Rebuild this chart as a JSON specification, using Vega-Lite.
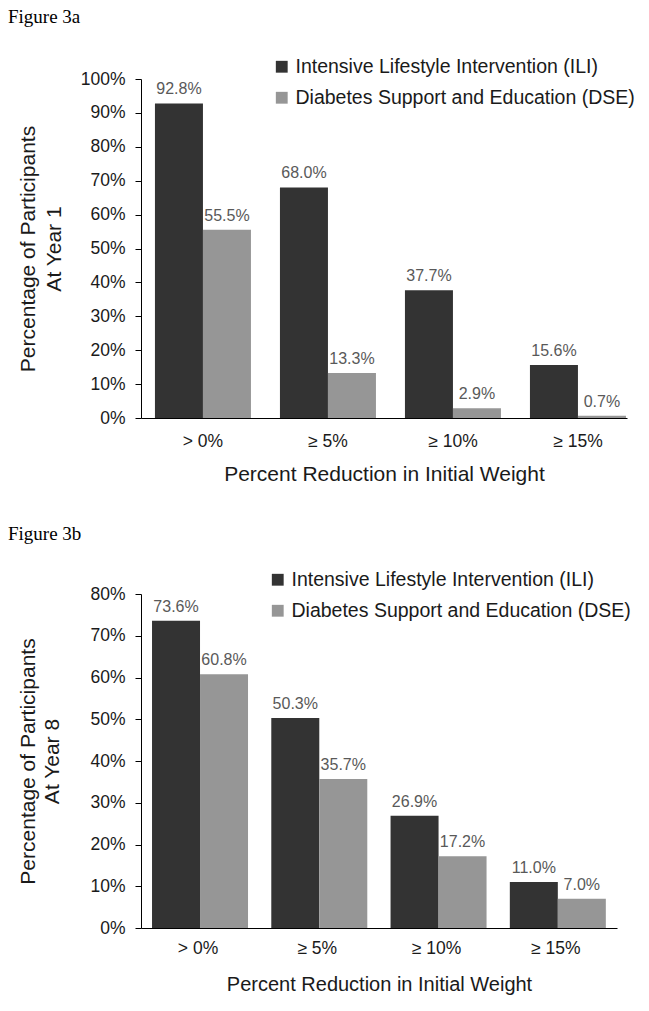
{
  "$schema": "https://vega.github.io/schema/vega-lite/v6.json",
  "background": "white",
  "padding": {"left": 8, "top": 8, "right": 0, "bottom": 0},
  "bounds": "flush",
  "spacing": 176,
  "config": {
    "font": "Liberation Sans",
    "view": {"stroke": null},
    "axis": {
      "grid": false,
      "domainColor": "#000000",
      "tickColor": "#000000",
      "labelColor": "#1a1a1a",
      "titleColor": "#1a1a1a",
      "labelFontSize": 17.5,
      "titleFontSize": 21,
      "titleFontWeight": "normal",
      "labelFont": "Liberation Sans",
      "titleFont": "Liberation Sans"
    },
    "legend": {
      "labelFontSize": 19.5,
      "labelColor": "#1a1a1a",
      "labelFont": "Liberation Sans",
      "symbolType": "square",
      "symbolSize": 140,
      "symbolStrokeWidth": 0,
      "labelOffset": 4,
      "rowPadding": 10,
      "labelLimit": 500
    },
    "title": {
      "font": "Liberation Serif",
      "fontSize": 19,
      "fontWeight": "normal",
      "color": "#000000",
      "anchor": "start",
      "frame": "group"
    }
  },
  "datasets": {
    "year1": [
      {"cat": "> 0%", "group": "Intensive Lifestyle Intervention (ILI)", "share": 0.928},
      {"cat": "> 0%", "group": "Diabetes Support and Education (DSE)", "share": 0.555},
      {"cat": "≥ 5%", "group": "Intensive Lifestyle Intervention (ILI)", "share": 0.680},
      {"cat": "≥ 5%", "group": "Diabetes Support and Education (DSE)", "share": 0.133},
      {"cat": "≥ 10%", "group": "Intensive Lifestyle Intervention (ILI)", "share": 0.377},
      {"cat": "≥ 10%", "group": "Diabetes Support and Education (DSE)", "share": 0.029},
      {"cat": "≥ 15%", "group": "Intensive Lifestyle Intervention (ILI)", "share": 0.156},
      {"cat": "≥ 15%", "group": "Diabetes Support and Education (DSE)", "share": 0.007}
    ],
    "year8": [
      {"cat": "> 0%", "group": "Intensive Lifestyle Intervention (ILI)", "share": 0.736},
      {"cat": "> 0%", "group": "Diabetes Support and Education (DSE)", "share": 0.608},
      {"cat": "≥ 5%", "group": "Intensive Lifestyle Intervention (ILI)", "share": 0.503},
      {"cat": "≥ 5%", "group": "Diabetes Support and Education (DSE)", "share": 0.357},
      {"cat": "≥ 10%", "group": "Intensive Lifestyle Intervention (ILI)", "share": 0.269},
      {"cat": "≥ 10%", "group": "Diabetes Support and Education (DSE)", "share": 0.172},
      {"cat": "≥ 15%", "group": "Intensive Lifestyle Intervention (ILI)", "share": 0.110},
      {"cat": "≥ 15%", "group": "Diabetes Support and Education (DSE)", "share": 0.070}
    ]
  },
  "vconcat": [
    {
      "title": {"text": "Figure 3a", "dx": -133, "offset": 30},
      "width": 486,
      "height": 339,
      "data": {"name": "year1"},
      "encoding": {
        "x": {
          "field": "cat", "type": "nominal", "sort": ["> 0%", "≥ 5%", "≥ 10%", "≥ 15%"],
          "scale": {"paddingInner": 0.232, "paddingOuter": 0.06, "align": 0.93},
          "axis": {"title": "Percent Reduction in Initial Weight", "labelAngle": 0, "ticks": false, "labelPadding": 14, "titlePadding": 14}
        },
        "xOffset": {
          "field": "group", "type": "nominal",
          "sort": ["Intensive Lifestyle Intervention (ILI)", "Diabetes Support and Education (DSE)"],
          "scale": {"paddingInner": 0, "paddingOuter": 0}
        },
        "y": {
          "field": "share", "type": "quantitative",
          "scale": {"domain": [0, 1], "nice": false},
          "axis": {
            "title": ["Percentage of Participants", "At Year 1"],
            "titleLineHeight": 26,
            "titlePadding": 16,
            "format": ".0%",
            "values": [0, 0.1, 0.2, 0.3, 0.4, 0.5, 0.6, 0.7, 0.8, 0.9, 1],
            "tickSize": 6,
            "labelPadding": 10
          }
        }
      },
      "layer": [
        {
          "mark": {"type": "bar"},
          "encoding": {
            "color": {
              "field": "group", "type": "nominal",
              "sort": ["Intensive Lifestyle Intervention (ILI)", "Diabetes Support and Education (DSE)"],
              "scale": {"domain": ["Intensive Lifestyle Intervention (ILI)", "Diabetes Support and Education (DSE)"], "range": ["#333333", "#969696"]},
              "legend": {"title": null, "orient": "none", "legendX": 131, "legendY": -22}
            }
          }
        },
        {
          "mark": {"type": "text", "baseline": "bottom", "dy": -6, "fontSize": 16, "color": "#595959"},
          "encoding": {"text": {"field": "share", "type": "quantitative", "format": ".1%"}}
        }
      ]
    },
    {
      "title": {"text": "Figure 3b", "dx": -133, "offset": 26},
      "width": 476,
      "height": 334,
      "data": {"name": "year8"},
      "encoding": {
        "x": {
          "field": "cat", "type": "nominal", "sort": ["> 0%", "≥ 5%", "≥ 10%", "≥ 15%"],
          "scale": {"paddingInner": 0.229, "paddingOuter": 0.11, "align": 0.42},
          "axis": {"title": "Percent Reduction in Initial Weight", "titleFontSize": 20, "labelAngle": 0, "ticks": false, "labelPadding": 11, "titlePadding": 18}
        },
        "xOffset": {
          "field": "group", "type": "nominal",
          "sort": ["Intensive Lifestyle Intervention (ILI)", "Diabetes Support and Education (DSE)"],
          "scale": {"paddingInner": 0, "paddingOuter": 0}
        },
        "y": {
          "field": "share", "type": "quantitative",
          "scale": {"domain": [0, 0.8], "nice": false},
          "axis": {
            "title": ["Percentage of Participants", "At Year 8"],
            "titleLineHeight": 24,
            "titlePadding": 27,
            "format": ".0%",
            "values": [0, 0.1, 0.2, 0.3, 0.4, 0.5, 0.6, 0.7, 0.8],
            "tickSize": 6,
            "labelPadding": 10
          }
        }
      },
      "layer": [
        {
          "mark": {"type": "bar"},
          "encoding": {
            "color": {
              "field": "group", "type": "nominal",
              "sort": ["Intensive Lifestyle Intervention (ILI)", "Diabetes Support and Education (DSE)"],
              "scale": {"domain": ["Intensive Lifestyle Intervention (ILI)", "Diabetes Support and Education (DSE)"], "range": ["#333333", "#969696"]},
              "legend": {"title": null, "orient": "none", "legendX": 127, "legendY": -24}
            }
          }
        },
        {
          "mark": {"type": "text", "baseline": "bottom", "dy": -6, "fontSize": 16, "color": "#595959"},
          "encoding": {"text": {"field": "share", "type": "quantitative", "format": ".1%"}}
        }
      ]
    }
  ],
  "resolve": {"scale": {"color": "independent"}}
}
